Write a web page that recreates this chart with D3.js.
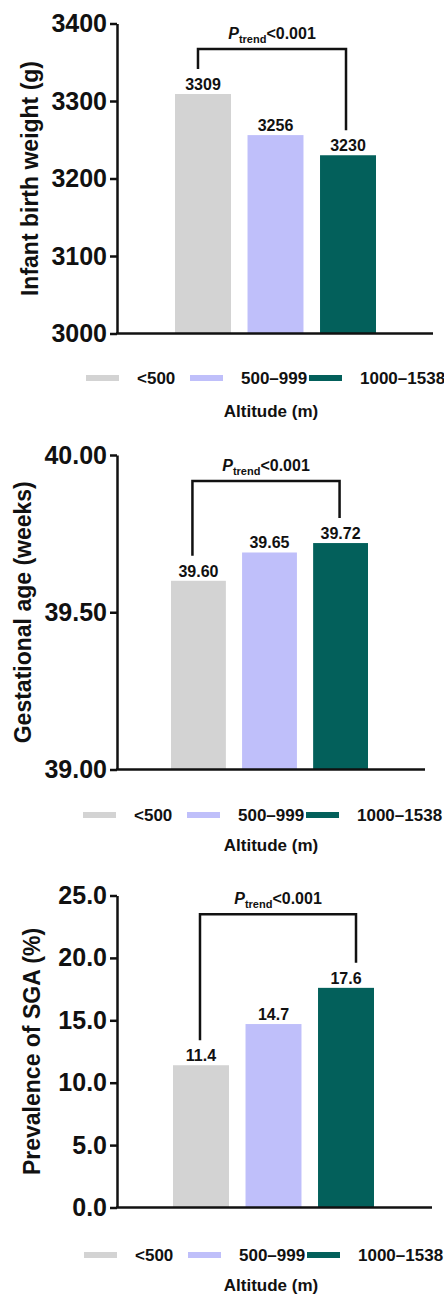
<!DOCTYPE html>
<html>
<head>
<meta charset="utf-8">
<script src="https://cdn.jsdelivr.net/npm/d3@7"></script>
<style>
  body { margin: 0; background: #fff; }
  svg { display: block; }
  text { font-family: "Liberation Sans", Arial, sans-serif; font-weight: bold; fill: #111; }
</style>
</head>
<body>
<svg id="chart" width="444" height="1294"></svg>
<script>
// altitude groups, shared by the three panels
var groups = ["<500", "500\u2013999", "1000\u20131538"];
var groupColors = ["#d3d3d3", "#bfbffa", "#03605b"];
var xTitle = "Altitude (m)";
var trendText = "<0.001";

// panel 1 - infant birth weight
var weightValues = [3309, 3256, 3230];
var weightLabels = ["3309", "3256", "3230"];
var weightTicks = [3000, 3100, 3200, 3300, 3400];

// panel 2 - gestational age (the middle bar is drawn a bit higher than its label)
var gestValues = [39.60, 39.69, 39.72];
var gestLabels = ["39.60", "39.65", "39.72"];
var gestTicks = [39.00, 39.50, 40.00];

// panel 3 - prevalence of SGA
var sgaValues = [11.4, 14.7, 17.6];
var sgaLabels = ["11.4", "14.7", "17.6"];
var sgaTicks = [0, 5, 10, 15, 20, 25];

var svg = d3.select('#chart');

var panels = [
  { title: "Infant birth weight (g)", values: weightValues, labels: weightLabels, ticks: weightTicks,
    fmt: d3.format("d"), top: 23.5, bottom: 333.5, barsX: [175, 376], axisRight: 433,
    bracketTop: 3367, bracketDx: [-5, -2], legendX: 86, legendY: 378, xTitleY: 411, yTitleX: 38 },
  { title: "Gestational age (weeks)", values: gestValues, labels: gestLabels, ticks: gestTicks,
    fmt: d3.format(".2f"), top: 455, bottom: 769.5, barsX: [171, 368], axisRight: 425,
    bracketTop: 39.917, bracketDx: [-6, -1], legendX: 83, legendY: 815, xTitleY: 845, yTitleX: 31 },
  { title: "Prevalence of SGA (%)", values: sgaValues, labels: sgaLabels, ticks: sgaTicks,
    fmt: d3.format(".1f"), top: 895.5, bottom: 1207.5, barsX: [173, 374], axisRight: 432,
    bracketTop: 23.5, bracketDx: [-1, 10], legendX: 84, legendY: 1255, xTitleY: 1285, yTitleX: 40 }
];

var axisX = 117;

function drawPanel(p) {
  var g = svg.append('g');

  var y = d3.scaleLinear()
    .domain([p.ticks[0], p.ticks[p.ticks.length - 1]])
    .range([p.bottom, p.top]);

  var x = d3.scaleBand()
    .domain(groups)
    .range(p.barsX)
    .paddingInner(0.228);

  // bars
  g.selectAll('rect.bar')
    .data(p.values)
    .join('rect')
    .attr('class', 'bar')
    .attr('x', function(d, i) { return x(groups[i]); })
    .attr('width', x.bandwidth())
    .attr('y', function(d) { return y(d); })
    .attr('height', function(d) { return p.bottom - y(d); })
    .attr('fill', function(d, i) { return groupColors[i]; });

  // value labels
  g.selectAll('text.val')
    .data(p.values)
    .join('text')
    .attr('class', 'val')
    .attr('x', function(d, i) { return x(groups[i]) + x.bandwidth() / 2; })
    .attr('y', function(d) { return y(d) - 4; })
    .attr('text-anchor', 'middle')
    .style('font-size', '16px')
    .text(function(d, i) { return p.labels[i]; });

  // y axis
  var yAxis = d3.axisLeft(y)
    .tickValues(p.ticks)
    .tickFormat(p.fmt)
    .tickSize(7)
    .tickSizeOuter(0)
    .tickPadding(3);

  var ay = g.append('g')
    .attr('transform', 'translate(' + axisX + ',0)')
    .call(yAxis);
  ay.select('.domain').attr('stroke', '#111').attr('stroke-width', 2.5);
  ay.selectAll('.tick line').attr('stroke', '#111').attr('stroke-width', 2.5);
  ay.selectAll('.tick text')
    .attr('fill', '#111')
    .style('font-size', '25px')
    .style('font-family', '"Liberation Sans", Arial, sans-serif')
    .style('font-weight', 'bold');

  // x axis baseline
  g.append('line')
    .attr('x1', axisX - 1).attr('x2', p.axisRight)
    .attr('y1', p.bottom).attr('y2', p.bottom)
    .attr('stroke', '#111').attr('stroke-width', 2.5);

  // trend bracket
  var lx = x(groups[0]) + x.bandwidth() / 2 + p.bracketDx[0];
  var rx = x(groups[2]) + x.bandwidth() / 2 + p.bracketDx[1];
  var ty = y(p.bracketTop);
  g.append('path')
    .attr('d', 'M' + lx + ',' + (y(p.values[0]) - 25) + 'V' + ty + 'H' + rx + 'V' + (y(p.values[2]) - 25))
    .attr('fill', 'none')
    .attr('stroke', '#111')
    .attr('stroke-width', 2.5);

  var pt = g.append('text')
    .attr('x', (lx + rx) / 2)
    .attr('y', ty - 10)
    .attr('text-anchor', 'middle')
    .style('font-size', '16px');
  pt.append('tspan').style('font-style', 'italic').text('P');
  pt.append('tspan').attr('dy', 4).style('font-size', '11px').text('trend');
  pt.append('tspan').attr('dy', -4).text(trendText);

  // y title
  g.append('text')
    .attr('transform', 'translate(' + p.yTitleX + ',' + ((p.top + p.bottom) / 2) + ') rotate(-90)')
    .attr('text-anchor', 'middle')
    .style('font-size', '23px')
    .text(p.title);

  // legend
  var colX = [0, 104, 223];
  var leg = g.append('g').attr('transform', 'translate(' + p.legendX + ',' + p.legendY + ')');
  leg.selectAll('rect')
    .data(groups)
    .join('rect')
    .attr('x', function(d, i) { return colX[i]; })
    .attr('y', -3)
    .attr('width', 33)
    .attr('height', 6)
    .attr('fill', function(d, i) { return groupColors[i]; });
  leg.selectAll('text')
    .data(groups)
    .join('text')
    .attr('x', function(d, i) { return colX[i] + 51; })
    .attr('y', 6)
    .style('font-size', '17px')
    .text(function(d) { return d; });

  // x title
  g.append('text')
    .attr('x', 271)
    .attr('y', p.xTitleY + 6)
    .attr('text-anchor', 'middle')
    .style('font-size', '17px')
    .text(xTitle);
}

panels.forEach(drawPanel);
</script>
</body>
</html>
